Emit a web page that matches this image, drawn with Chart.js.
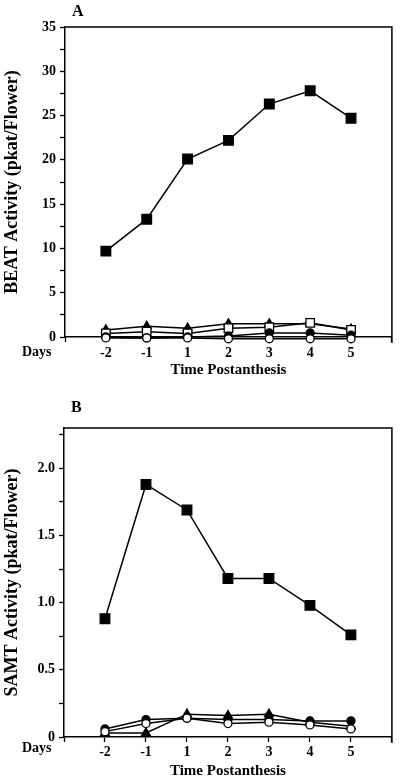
<!DOCTYPE html>
<html>
<head>
<title>BEAT / SAMT activity</title>
<script src="https://cdn.jsdelivr.net/npm/chart.js"></script>
<style>
  body { margin: 0; background: #fff; width: 400px; height: 782px; position: relative; overflow: hidden; }
  .box { position: absolute; left: 0; width: 400px; }
  .lbl { position: absolute; font-family: "Liberation Serif", serif; font-weight: bold; color: #000; }
</style>
</head>
<body>
<div class="box" style="top:0; height:390px;"><canvas id="chartA"></canvas></div>
<div class="box" style="top:390px; height:392px;"><canvas id="chartB"></canvas></div>
<div class="lbl" style="left:72px; top:2px; font-size:16px;">A</div>
<div class="lbl" style="left:71px; top:398px; font-size:16px;">B</div>
<div class="lbl" style="left:22px; top:344px; font-size:14px;">Days</div>
<div class="lbl" style="left:22px; top:740px; font-size:14px;">Days</div>
<script>
// days after anthesis (evenly spaced categories)
var days = ["-2", "-1", "1", "2", "3", "4", "5"];

// panel A - BEAT activity
var beatFilledSquare = [9.7, 13.3, 20.1, 22.2, 26.3, 27.8, 24.7];
var beatTriangle     = [0.8, 1.2, 1.0, 1.5, 1.5, 1.5, 0.9];
var beatOpenSquare   = [0.4, 0.6, 0.4, 1.0, 1.1, 1.6, 0.8];
var beatFilledCircle = [0.0, -0.1, 0.0, 0.1, 0.45, 0.45, 0.2];
var beatOpenCircle   = [-0.1, -0.1, -0.1, -0.2, -0.2, -0.2, -0.2];

// panel B - SAMT activity
var samtFilledSquare = [0.88, 1.88, 1.69, 1.18, 1.18, 0.98, 0.76];
var samtTriangle     = [0.03, 0.03, 0.17, 0.16, 0.17, 0.11, 0.08];
var samtFilledCircle = [0.06, 0.13, 0.14, 0.13, 0.13, 0.12, 0.12];
var samtOpenCircle   = [0.04, 0.10, 0.14, 0.10, 0.11, 0.09, 0.06];

Chart.defaults.font.family = '"Liberation Serif", "Times New Roman", serif';
Chart.defaults.font.weight = "bold";
Chart.defaults.color = "#000";

function toPoints(arr) {
    return arr.map(function(v, i) { return { x: i, y: v }; });
}

function series(arr, style, filled, radius, order) {
    return {
        data: toPoints(arr),
        borderColor: "#000",
        borderWidth: 1.5,
        pointStyle: style,
        pointRadius: radius,
        pointHoverRadius: radius,
        pointBackgroundColor: filled ? "#000" : "#fff",
        pointBorderColor: "#000",
        pointBorderWidth: 1.3,
        clip: false,
        order: order
    };
}

// top and right border of the plot box
var framePlugin = {
    id: "frame",
    afterDatasetsDraw: function(chart) {
        var a = chart.chartArea, ctx = chart.ctx;
        ctx.save();
        ctx.strokeStyle = "#000";
        ctx.lineWidth = 1.5;
        ctx.beginPath();
        ctx.moveTo(a.left, a.top);
        ctx.lineTo(a.right, a.top);
        ctx.lineTo(a.right, a.bottom + 6);
        ctx.stroke();
        ctx.restore();
    }
};

function makeChart(id, datasets, yOpts) {
    return new Chart(document.getElementById(id), {
        type: "line",
        data: { datasets: datasets },
        plugins: [framePlugin],
        options: {
            responsive: true,
            maintainAspectRatio: false,
            animation: false,
            layout: { padding: yOpts.padding },
            plugins: { legend: { display: false }, tooltip: { enabled: false } },
            scales: {
                x: {
                    type: "linear",
                    min: -1,
                    max: 7,
                    afterFit: function(s) { s.height = yOpts.xHeight; },
                    afterBuildTicks: function(s) {
                        s.ticks = [];
                        for (var i = -1; i <= 7; i++) s.ticks.push({ value: i });
                    },
                    ticks: {
                        autoSkip: false,
                        maxRotation: 0,
                        padding: yOpts.xTickPad,
                        font: { size: 14, weight: "bold" },
                        callback: function(v) { return days[v] !== undefined ? days[v] : ""; }
                    },
                    grid: { drawOnChartArea: false, tickLength: 5, tickColor: "#000", tickWidth: 1.3 },
                    border: { display: true, color: "#000", width: 1.5 },
                    title: {
                        display: true,
                        text: "Time Postanthesis",
                        font: { size: 15, weight: "bold" },
                        padding: { top: 0, bottom: yOpts.xTitlePad }
                    }
                },
                y: {
                    min: yOpts.min,
                    max: yOpts.max,
                    afterFit: function(s) { s.width = yOpts.yWidth; },
                    ticks: {
                        stepSize: yOpts.step,
                        includeBounds: false,
                        padding: 4,
                        font: { size: 14, weight: "bold" },
                        callback: yOpts.label
                    },
                    grid: { drawOnChartArea: false, tickLength: 5, tickColor: "#000", tickWidth: 1.3 },
                    border: { display: true, color: "#000", width: 1.5 },
                    title: {
                        display: true,
                        text: yOpts.title,
                        font: { size: 18, weight: "bold" },
                        padding: { top: 0, bottom: 0 }
                    }
                }
            }
        }
    });
}

makeChart("chartA", [
    series(beatFilledSquare, "rect", true, 6.8, 0),
    series(beatOpenCircle, "circle", false, 4, 1),
    series(beatFilledCircle, "circle", true, 4, 2),
    series(beatOpenSquare, "rect", false, 6, 3),
    series(beatTriangle, "triangle", true, 5, 4)
], {
    min: 0, max: 35, step: 2.5,
    title: "BEAT Activity (pkat/Flower)",
    label: function(v) { return v % 5 === 0 ? String(v) : ""; },
    padding: { top: 27, right: 7, left: 2, bottom: 0 },
    yWidth: 63, xHeight: 53, xTickPad: 3, xTitlePad: 11
});

makeChart("chartB", [
    series(samtFilledSquare, "rect", true, 6.8, 0),
    series(samtOpenCircle, "circle", false, 4, 1),
    series(samtFilledCircle, "circle", true, 4, 2),
    series(samtTriangle, "triangle", true, 5, 3)
], {
    min: 0, max: 2.3, step: 0.25,
    title: "SAMT Activity (pkat/Flower)",
    label: function(v) {
        if (Math.abs(v * 2 - Math.round(v * 2)) > 1e-6) return "";
        return v === 0 ? "0" : v.toFixed(1);
    },
    padding: { top: 38, right: 8, left: 2, bottom: 0 },
    yWidth: 62, xHeight: 45, xTickPad: 2, xTitlePad: 2
});
</script>
</body>
</html>
